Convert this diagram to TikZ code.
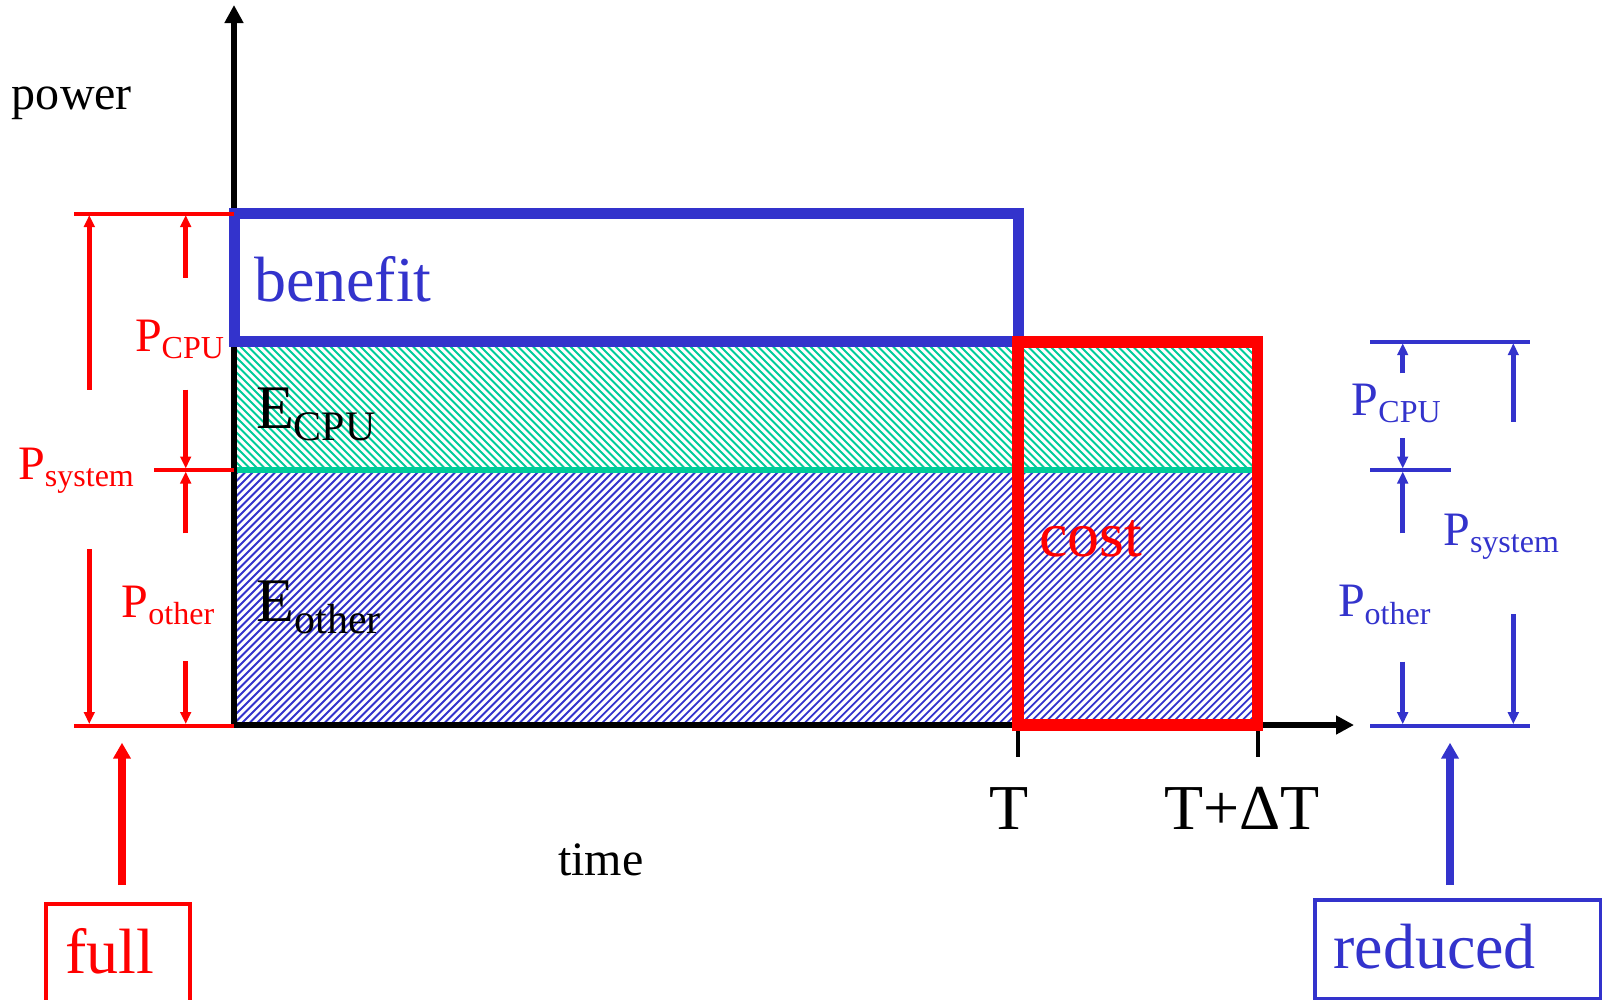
\documentclass[tikz,border=0pt]{standalone}
\usepackage{fontspec}
\setmainfont{Liberation Serif}
\usetikzlibrary{arrows.meta}

\definecolor{plotblue}{RGB}{51,51,204}
\definecolor{plotgreen}{RGB}{0,204,153}
\definecolor{plotred}{RGB}{255,0,0}

% symbol with a lowered subscript, large and small variants
\newcommand{\lblbig}[2]{{\fontsize{62}{70}\selectfont #1}\raisebox{-12pt}{\fontsize{42}{48}\selectfont #2}}
\newcommand{\lblsmall}[2]{{\fontsize{48}{56}\selectfont #1}\raisebox{-7.5pt}{\fontsize{32}{38}\selectfont #2}}

\begin{document}
\begin{tikzpicture}[x=1pt,y=-1pt,
  txt/.style={anchor=base west, inner sep=0pt, outer sep=0pt},
  bigtxt/.style={txt, font=\fontsize{64}{72}\selectfont},
  midtxt/.style={txt, font=\fontsize{48}{56}\selectfont},
  axisline/.style={line width=6pt, -{Triangle[length=18pt,width=18pt]}},
  levelline/.style={line width=4pt},
  dimarrow/.style={line width=4.5pt, -{Triangle[length=12pt,width=10.5pt]}},
  bigarrow/.style={line width=8pt, -{Triangle[length=16pt,width=17pt]}},
  hatchline/.style={line width=1.8pt},
]
\clip (0,0) rectangle (1602,999);

% ---- hatched energy areas ----
\begin{scope}
  \clip (234,470) rectangle (1257.5,725);
  \foreach \i in {0,...,175}
    \draw[hatchline, plotblue] ({-30+\i*7.5},725) -- ++(260,-260);
\end{scope}
\begin{scope}
  \clip (234,341) rectangle (1257.5,470);
  \foreach \i in {0,...,160}
    \draw[hatchline, plotgreen] ({100+\i*7.5},341) -- ++(135,135);
\end{scope}
\draw[plotgreen, line width=6pt] (234,470) -- (1257.5,470);

% ---- axes ----
\coordinate (O) at (234,725);
\coordinate (ytip) at (234,5);
\coordinate (xtip) at (1354,725);
\draw[axisline] ([yshift=-3pt]O) -- (ytip);
\draw[axisline] ([xshift=-3pt]O) -- (xtip);

\coordinate (tickT) at (1018.3,725);
\coordinate (tickTe) at (1018.3,757.3);
\coordinate (tickD) at (1257.7,725);
\coordinate (tickDe) at (1257.7,757.3);
\draw[line width=4pt] (tickT) -- (tickTe);
\draw[line width=4pt] (tickD) -- (tickDe);

% ---- benefit and cost boxes ----
\draw[plotblue, line width=11pt] (234,213.5) rectangle (1018,341.7);
\draw[plotred, line width=11.5pt] (1018,342) rectangle (1257.5,725);

% ---- texts in the plot ----
\node[midtxt] (power) at (12,109) {power};
\node[midtxt] (time) at (558,875.7) {time};
\node[bigtxt] (tT) at (989,829.3) {T};
\node[bigtxt] (tTd) at (1164,829.3) {T+ΔT};
\node[bigtxt, text=plotblue] (benefit) at (254,301) {benefit};
\node[bigtxt, text=plotred] (cost) at (1039.3,556.7) {cost};
\node[txt] (ecpu) at (256,428.3) {\lblbig{E}{CPU}};
\node[txt] (eother) at (256.7,621) {\lblbig{E}{other}};

% ---- full-power dimensions (left) ----
\begin{scope}[plotred]
  \coordinate (LtopA) at (74,213.5);   \coordinate (LtopB) at (234,213.5);
  \coordinate (LmidA) at (154,470);    \coordinate (LmidB) at (234,470);
  \coordinate (LbotA) at (74,725.5);   \coordinate (LbotB) at (234,725.5);
  \draw[levelline] (LtopA) -- (LtopB);
  \draw[levelline] (LmidA) -- (LmidB);
  \draw[levelline] (LbotA) -- (LbotB);

  \coordinate (la1) at (89.3,389.7);  \coordinate (la1e) at (89.3,215);
  \coordinate (la2) at (89.3,549);    \coordinate (la2e) at (89.3,724);
  \draw[dimarrow] (la1) -- (la1e);
  \draw[dimarrow] (la2) -- (la2e);

  \coordinate (sa1) at (185.7,277.6); \coordinate (sa1e) at (185.7,215);
  \coordinate (sa2) at (185.7,389.7); \coordinate (sa2e) at (185.7,468.5);
  \coordinate (sa3) at (185.7,533.3); \coordinate (sa3e) at (185.7,471.5);
  \coordinate (sa4) at (185.7,661);   \coordinate (sa4e) at (185.7,724);
  \draw[dimarrow] (sa1) -- (sa1e);
  \draw[dimarrow] (sa2) -- (sa2e);
  \draw[dimarrow] (sa3) -- (sa3e);
  \draw[dimarrow] (sa4) -- (sa4e);

  \node[txt, text=plotred] (lpcpu) at (135,351) {\lblsmall{P}{CPU}};
  \node[txt, text=plotred] (lpsys) at (18.3,479) {\lblsmall{P}{system}};
  \node[txt, text=plotred] (lpoth) at (121.7,617) {\lblsmall{P}{other}};
\end{scope}

% ---- reduced-power dimensions (right) ----
\begin{scope}[plotblue]
  \coordinate (RtopA) at (1370,341.7); \coordinate (RtopB) at (1530,341.7);
  \coordinate (RmidA) at (1370,470);   \coordinate (RmidB) at (1451,470);
  \coordinate (RbotA) at (1370,725.7); \coordinate (RbotB) at (1530,725.7);
  \draw[levelline] (RtopA) -- (RtopB);
  \draw[levelline] (RmidA) -- (RmidB);
  \draw[levelline] (RbotA) -- (RbotB);

  \coordinate (ra1) at (1402.7,373.3); \coordinate (ra1e) at (1402.7,343.2);
  \coordinate (ra2) at (1402.7,438.3); \coordinate (ra2e) at (1402.7,468.5);
  \coordinate (ra3) at (1402.7,533.3); \coordinate (ra3e) at (1402.7,471.5);
  \coordinate (ra4) at (1402.7,661.7); \coordinate (ra4e) at (1402.7,724.2);
  \draw[dimarrow] (ra1) -- (ra1e);
  \draw[dimarrow] (ra2) -- (ra2e);
  \draw[dimarrow] (ra3) -- (ra3e);
  \draw[dimarrow] (ra4) -- (ra4e);

  \coordinate (rb1) at (1513.3,421.7); \coordinate (rb1e) at (1513.3,343.2);
  \coordinate (rb2) at (1513.3,614);   \coordinate (rb2e) at (1513.3,724.2);
  \draw[dimarrow] (rb1) -- (rb1e);
  \draw[dimarrow] (rb2) -- (rb2e);

  \node[txt, text=plotblue] (rpcpu) at (1351.7,415) {\lblsmall{P}{CPU}};
  \node[txt, text=plotblue] (rpsys) at (1443.3,545) {\lblsmall{P}{system}};
  \node[txt, text=plotblue] (rpoth) at (1338,616.7) {\lblsmall{P}{other}};
\end{scope}

% ---- mode boxes with their arrows ----
\node[draw=plotred, line width=4pt, anchor=north west, minimum width=144pt,
      minimum height=130pt, inner sep=0pt] (fullbox) at (43.7,901.7) {};
\node[bigtxt, text=plotred] (full) at (65,973.3) {full};
\coordinate (fullfrom) at (122,885);
\coordinate (fullto) at (122,742.7);
\draw[bigarrow, plotred] (fullfrom) -- (fullto);

\node[draw=plotblue, line width=4pt, anchor=north west, minimum width=286pt,
      minimum height=99pt, inner sep=0pt] (redbox) at (1313.3,897.7) {};
\node[bigtxt, text=plotblue] (reduced) at (1333.3,968.3) {reduced};
\coordinate (redfrom) at (1450,885);
\coordinate (redto) at (1450,742.7);
\draw[bigarrow, plotblue] (redfrom) -- (redto);

\end{tikzpicture}
\end{document}
